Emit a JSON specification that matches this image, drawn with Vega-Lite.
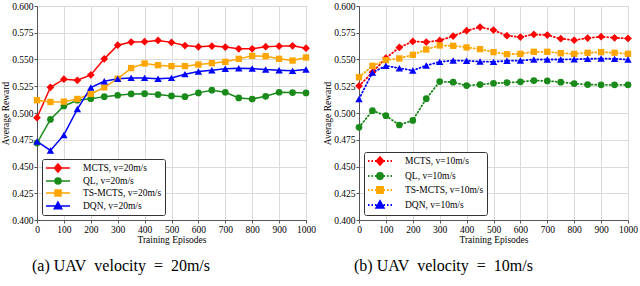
{
  "$schema": "https://vega.github.io/schema/vega-lite/v6.json",
  "padding": {"left": 0, "top": 0, "right": 0, "bottom": 0},
  "background": "white",
  "config": {
    "font": "Liberation Serif",
    "view": {"stroke": "#555", "strokeWidth": 1},
    "axis": {"labelFont": "Liberation Serif", "titleFont": "Liberation Serif", "labelFontSize": 9.5, "titleFontSize": 9.5, "titleFontWeight": "normal", "labelColor": "#000", "titleColor": "#000", "gridColor": "#dadada", "gridWidth": 1, "domainColor": "#555", "tickColor": "#555", "tickSize": 3, "labelPadding": 1, "titlePadding": 1, "labelFlush": false},
    "legend": {"labelFont": "Liberation Serif", "labelFontSize": 9.5, "labelColor": "#000", "strokeColor": "#333", "fillColor": "#fff", "padding": 3, "cornerRadius": 2, "rowPadding": 0, "symbolSize": 100, "symbolOffset": 7, "labelOffset": 19, "orient": "bottom-left", "offset": 5, "title": null},
    "title": {"font": "Liberation Serif", "fontSize": 16, "fontWeight": "normal", "color": "#000"}
  },
  "datasets": {
    "a": [
      {"ep": 0, "MCTS, v=20m/s": 0.4956, "QL, v=20m/s": 0.4719, "TS-MCTS, v=20m/s": 0.5119, "DQN, v=20m/s": 0.4734},
      {"ep": 50, "MCTS, v=20m/s": 0.524, "QL, v=20m/s": 0.494, "TS-MCTS, v=20m/s": 0.5103, "DQN, v=20m/s": 0.465},
      {"ep": 100, "MCTS, v=20m/s": 0.5316, "QL, v=20m/s": 0.5066, "TS-MCTS, v=20m/s": 0.5106, "DQN, v=20m/s": 0.4795},
      {"ep": 150, "MCTS, v=20m/s": 0.5306, "QL, v=20m/s": 0.5119, "TS-MCTS, v=20m/s": 0.5131, "DQN, v=20m/s": 0.5037},
      {"ep": 200, "MCTS, v=20m/s": 0.5356, "QL, v=20m/s": 0.5134, "TS-MCTS, v=20m/s": 0.5178, "DQN, v=20m/s": 0.5238},
      {"ep": 250, "MCTS, v=20m/s": 0.5506, "QL, v=20m/s": 0.5153, "TS-MCTS, v=20m/s": 0.524, "DQN, v=20m/s": 0.5297},
      {"ep": 300, "MCTS, v=20m/s": 0.5634, "QL, v=20m/s": 0.5166, "TS-MCTS, v=20m/s": 0.532, "DQN, v=20m/s": 0.5319},
      {"ep": 350, "MCTS, v=20m/s": 0.5663, "QL, v=20m/s": 0.5178, "TS-MCTS, v=20m/s": 0.542, "DQN, v=20m/s": 0.5328},
      {"ep": 400, "MCTS, v=20m/s": 0.5666, "QL, v=20m/s": 0.5181, "TS-MCTS, v=20m/s": 0.5463, "DQN, v=20m/s": 0.5328},
      {"ep": 450, "MCTS, v=20m/s": 0.5678, "QL, v=20m/s": 0.5172, "TS-MCTS, v=20m/s": 0.5447, "DQN, v=20m/s": 0.532},
      {"ep": 500, "MCTS, v=20m/s": 0.566, "QL, v=20m/s": 0.516, "TS-MCTS, v=20m/s": 0.5438, "DQN, v=20m/s": 0.5328},
      {"ep": 550, "MCTS, v=20m/s": 0.563, "QL, v=20m/s": 0.5153, "TS-MCTS, v=20m/s": 0.5438, "DQN, v=20m/s": 0.5363},
      {"ep": 600, "MCTS, v=20m/s": 0.5619, "QL, v=20m/s": 0.5188, "TS-MCTS, v=20m/s": 0.5453, "DQN, v=20m/s": 0.5388},
      {"ep": 650, "MCTS, v=20m/s": 0.5625, "QL, v=20m/s": 0.5213, "TS-MCTS, v=20m/s": 0.5466, "DQN, v=20m/s": 0.54},
      {"ep": 700, "MCTS, v=20m/s": 0.5616, "QL, v=20m/s": 0.5194, "TS-MCTS, v=20m/s": 0.5478, "DQN, v=20m/s": 0.5413},
      {"ep": 750, "MCTS, v=20m/s": 0.56, "QL, v=20m/s": 0.5141, "TS-MCTS, v=20m/s": 0.5506, "DQN, v=20m/s": 0.5419},
      {"ep": 800, "MCTS, v=20m/s": 0.56, "QL, v=20m/s": 0.5131, "TS-MCTS, v=20m/s": 0.5534, "DQN, v=20m/s": 0.5416},
      {"ep": 850, "MCTS, v=20m/s": 0.562, "QL, v=20m/s": 0.5156, "TS-MCTS, v=20m/s": 0.5531, "DQN, v=20m/s": 0.5406},
      {"ep": 900, "MCTS, v=20m/s": 0.5625, "QL, v=20m/s": 0.5194, "TS-MCTS, v=20m/s": 0.5506, "DQN, v=20m/s": 0.54},
      {"ep": 950, "MCTS, v=20m/s": 0.5628, "QL, v=20m/s": 0.5191, "TS-MCTS, v=20m/s": 0.549, "DQN, v=20m/s": 0.5394},
      {"ep": 1000, "MCTS, v=20m/s": 0.5606, "QL, v=20m/s": 0.5188, "TS-MCTS, v=20m/s": 0.5519, "DQN, v=20m/s": 0.5406}
    ],
    "b": [
      {"ep": 0, "MCTS, v=10m/s": 0.5253, "QL, v=10m/s": 0.4866, "TS-MCTS, v=10m/s": 0.5334, "DQN, v=10m/s": 0.5131},
      {"ep": 50, "MCTS, v=10m/s": 0.538, "QL, v=10m/s": 0.5022, "TS-MCTS, v=10m/s": 0.5441, "DQN, v=10m/s": 0.5378},
      {"ep": 100, "MCTS, v=10m/s": 0.5513, "QL, v=10m/s": 0.4975, "TS-MCTS, v=10m/s": 0.5494, "DQN, v=10m/s": 0.5441},
      {"ep": 150, "MCTS, v=10m/s": 0.5613, "QL, v=10m/s": 0.4888, "TS-MCTS, v=10m/s": 0.551, "DQN, v=10m/s": 0.5419},
      {"ep": 200, "MCTS, v=10m/s": 0.5669, "QL, v=10m/s": 0.4931, "TS-MCTS, v=10m/s": 0.5544, "DQN, v=10m/s": 0.5397},
      {"ep": 250, "MCTS, v=10m/s": 0.5663, "QL, v=10m/s": 0.5134, "TS-MCTS, v=10m/s": 0.5594, "DQN, v=10m/s": 0.5444},
      {"ep": 300, "MCTS, v=10m/s": 0.5678, "QL, v=10m/s": 0.5294, "TS-MCTS, v=10m/s": 0.5631, "DQN, v=10m/s": 0.5478},
      {"ep": 350, "MCTS, v=10m/s": 0.5719, "QL, v=10m/s": 0.5288, "TS-MCTS, v=10m/s": 0.5628, "DQN, v=10m/s": 0.549},
      {"ep": 400, "MCTS, v=10m/s": 0.5769, "QL, v=10m/s": 0.5256, "TS-MCTS, v=10m/s": 0.5613, "DQN, v=10m/s": 0.5488},
      {"ep": 450, "MCTS, v=10m/s": 0.5803, "QL, v=10m/s": 0.5266, "TS-MCTS, v=10m/s": 0.5597, "DQN, v=10m/s": 0.5481},
      {"ep": 500, "MCTS, v=10m/s": 0.5775, "QL, v=10m/s": 0.5278, "TS-MCTS, v=10m/s": 0.5569, "DQN, v=10m/s": 0.5478},
      {"ep": 550, "MCTS, v=10m/s": 0.5722, "QL, v=10m/s": 0.5284, "TS-MCTS, v=10m/s": 0.555, "DQN, v=10m/s": 0.5488},
      {"ep": 600, "MCTS, v=10m/s": 0.571, "QL, v=10m/s": 0.5291, "TS-MCTS, v=10m/s": 0.5553, "DQN, v=10m/s": 0.549},
      {"ep": 650, "MCTS, v=10m/s": 0.5734, "QL, v=10m/s": 0.5303, "TS-MCTS, v=10m/s": 0.5572, "DQN, v=10m/s": 0.55},
      {"ep": 700, "MCTS, v=10m/s": 0.5728, "QL, v=10m/s": 0.53, "TS-MCTS, v=10m/s": 0.5572, "DQN, v=10m/s": 0.55},
      {"ep": 750, "MCTS, v=10m/s": 0.5694, "QL, v=10m/s": 0.5288, "TS-MCTS, v=10m/s": 0.5559, "DQN, v=10m/s": 0.55},
      {"ep": 800, "MCTS, v=10m/s": 0.5681, "QL, v=10m/s": 0.5275, "TS-MCTS, v=10m/s": 0.5553, "DQN, v=10m/s": 0.5503},
      {"ep": 850, "MCTS, v=10m/s": 0.57, "QL, v=10m/s": 0.5266, "TS-MCTS, v=10m/s": 0.5563, "DQN, v=10m/s": 0.5506},
      {"ep": 900, "MCTS, v=10m/s": 0.5713, "QL, v=10m/s": 0.5263, "TS-MCTS, v=10m/s": 0.5569, "DQN, v=10m/s": 0.5509},
      {"ep": 950, "MCTS, v=10m/s": 0.5703, "QL, v=10m/s": 0.5263, "TS-MCTS, v=10m/s": 0.5563, "DQN, v=10m/s": 0.5506},
      {"ep": 1000, "MCTS, v=10m/s": 0.5697, "QL, v=10m/s": 0.5263, "TS-MCTS, v=10m/s": 0.5553, "DQN, v=10m/s": 0.55}
    ]
  },
  "resolve": {"scale": {"color": "independent"}, "legend": {"color": "independent"}},
  "spacing": 6,
  "hconcat": [
    {
      "width": 269,
      "height": 214,
      "data": {"name": "a"},
      "transform": [{"fold": ["MCTS, v=20m/s", "QL, v=20m/s", "TS-MCTS, v=20m/s", "DQN, v=20m/s"], "as": ["series", "reward"]}],
      "title": {"text": "(a) UAV\u00a0 velocity\u00a0 =\u00a0 20m/s", "orient": "bottom", "anchor": "start", "frame": "group", "offset": 14, "dx": -5},
      "encoding": {
        "x": {"field": "ep", "type": "quantitative", "scale": {"domain": [0, 1000], "nice": false}, "axis": {"values": [0, 100, 200, 300, 400, 500, 600, 700, 800, 900, 1000], "format": "d", "title": "Training Episodes"}},
        "y": {"field": "reward", "type": "quantitative", "scale": {"domain": [0.4, 0.6], "nice": false, "zero": false}, "axis": {"values": [0.4, 0.425, 0.45, 0.475, 0.5, 0.525, 0.55, 0.575, 0.6], "format": ".3f", "title": "Average Reward"}},
        "color": {"field": "series", "type": "nominal",
          "scale": {"domain": ["MCTS, v=20m/s", "QL, v=20m/s", "TS-MCTS, v=20m/s", "DQN, v=20m/s"], "range": ["#ff0000", "#1a8a1a", "#ffa500", "#0000ff"]},
          "legend": {"encode": {"symbols": {"update": {
            "shape": {"signal": "indexof(datum.value,'MCTS')==0 ? 'M-2.4,0L2.4,0M0,-0.8L0.7,0L0,0.8L-0.7,0Z' : indexof(datum.value,'QL')==0 ? 'M-2.4,0L2.4,0M-0.6,0A0.6,0.6,0,1,0,0.6,0A0.6,0.6,0,1,0,-0.6,0Z' : indexof(datum.value,'TS')==0 ? 'M-2.4,0L2.4,0M-0.6,-0.6L0.6,-0.6L0.6,0.6L-0.6,0.6Z' : 'M-2.4,0L2.4,0M0,-0.8L0.75,0.55L-0.75,0.55Z'"},
            "fill": {"signal": "indexof(datum.value,'MCTS')==0 ? '#ff0000' : indexof(datum.value,'QL')==0 ? '#1a8a1a' : indexof(datum.value,'TS')==0 ? '#ffa500' : '#0000ff'"},
            "stroke": {"signal": "indexof(datum.value,'MCTS')==0 ? '#ff0000' : indexof(datum.value,'QL')==0 ? '#1a8a1a' : indexof(datum.value,'TS')==0 ? '#ffa500' : '#0000ff'"},
            "strokeWidth": {"value": 1.5},
            "size": {"value": 100},
            "opacity": {"value": 1},
            "fillOpacity": {"value": 1}
          }}}}
        }
      },
      "layer": [
        {"mark": {"type": "line", "strokeWidth": 1.5}},
        {"transform": [{"filter": "datum.series == 'MCTS, v=20m/s'"}], "mark": {"type": "point", "shape": "diamond", "filled": true, "size": 60, "opacity": 1}},
        {"transform": [{"filter": "datum.series == 'QL, v=20m/s'"}], "mark": {"type": "point", "shape": "circle", "filled": true, "size": 45, "opacity": 1}},
        {"transform": [{"filter": "datum.series == 'TS-MCTS, v=20m/s'"}], "mark": {"type": "point", "shape": "square", "filled": true, "size": 40, "opacity": 1}},
        {"transform": [{"filter": "datum.series == 'DQN, v=20m/s'"}], "mark": {"type": "point", "shape": "triangle-up", "filled": true, "size": 55, "opacity": 1}}
      ]
    },
    {
      "width": 269,
      "height": 214,
      "data": {"name": "b"},
      "transform": [{"fold": ["MCTS, v=10m/s", "QL, v=10m/s", "TS-MCTS, v=10m/s", "DQN, v=10m/s"], "as": ["series", "reward"]}],
      "title": {"text": "(b) UAV\u00a0 velocity\u00a0 =\u00a0 10m/s", "orient": "bottom", "anchor": "start", "frame": "group", "offset": 14, "dx": -5},
      "encoding": {
        "x": {"field": "ep", "type": "quantitative", "scale": {"domain": [0, 1000], "nice": false}, "axis": {"values": [0, 100, 200, 300, 400, 500, 600, 700, 800, 900, 1000], "format": "d", "title": "Training Episodes"}},
        "y": {"field": "reward", "type": "quantitative", "scale": {"domain": [0.4, 0.6], "nice": false, "zero": false}, "axis": {"values": [0.4, 0.425, 0.45, 0.475, 0.5, 0.525, 0.55, 0.575, 0.6], "format": ".3f", "title": "Average Reward"}},
        "color": {"field": "series", "type": "nominal",
          "scale": {"domain": ["MCTS, v=10m/s", "QL, v=10m/s", "TS-MCTS, v=10m/s", "DQN, v=10m/s"], "range": ["#ff0000", "#1a8a1a", "#ffa500", "#0000ff"]},
          "legend": {"encode": {"symbols": {"update": {
            "shape": {"signal": "indexof(datum.value,'MCTS')==0 ? 'M-2.4,0L-2.1,0M-1.7,0L-1.4,0M1.4,0L1.7,0M2.1,0L2.4,0M-1,0L-0.7,0M0.7,0L1,0M0,-0.8L0.7,0L0,0.8L-0.7,0Z' : indexof(datum.value,'QL')==0 ? 'M-2.4,0L-2.1,0M-1.7,0L-1.4,0M1.4,0L1.7,0M2.1,0L2.4,0M-1,0L-0.7,0M0.7,0L1,0M-0.6,0A0.6,0.6,0,1,0,0.6,0A0.6,0.6,0,1,0,-0.6,0Z' : indexof(datum.value,'TS')==0 ? 'M-2.4,0L-2.1,0M-1.7,0L-1.4,0M1.4,0L1.7,0M2.1,0L2.4,0M-1,0L-0.7,0M0.7,0L1,0M-0.6,-0.6L0.6,-0.6L0.6,0.6L-0.6,0.6Z' : 'M-2.4,0L-2.1,0M-1.7,0L-1.4,0M1.4,0L1.7,0M2.1,0L2.4,0M-1,0L-0.7,0M0.7,0L1,0M0,-0.8L0.75,0.55L-0.75,0.55Z'"},
            "fill": {"signal": "indexof(datum.value,'MCTS')==0 ? '#ff0000' : indexof(datum.value,'QL')==0 ? '#1a8a1a' : indexof(datum.value,'TS')==0 ? '#ffa500' : '#0000ff'"},
            "stroke": {"signal": "indexof(datum.value,'MCTS')==0 ? '#ff0000' : indexof(datum.value,'QL')==0 ? '#1a8a1a' : indexof(datum.value,'TS')==0 ? '#ffa500' : '#0000ff'"},
            "strokeWidth": {"value": 1.8},
            "size": {"value": 100},
            "opacity": {"value": 1},
            "fillOpacity": {"value": 1}
          }}}}
        }
      },
      "layer": [
        {"mark": {"type": "line", "strokeWidth": 1.8, "strokeDash": [1, 2.6], "strokeCap": "round"}},
        {"transform": [{"filter": "datum.series == 'MCTS, v=10m/s'"}], "mark": {"type": "point", "shape": "diamond", "filled": true, "size": 60, "opacity": 1}},
        {"transform": [{"filter": "datum.series == 'QL, v=10m/s'"}], "mark": {"type": "point", "shape": "circle", "filled": true, "size": 45, "opacity": 1}},
        {"transform": [{"filter": "datum.series == 'TS-MCTS, v=10m/s'"}], "mark": {"type": "point", "shape": "square", "filled": true, "size": 40, "opacity": 1}},
        {"transform": [{"filter": "datum.series == 'DQN, v=10m/s'"}], "mark": {"type": "point", "shape": "triangle-up", "filled": true, "size": 55, "opacity": 1}}
      ]
    }
  ]
}
